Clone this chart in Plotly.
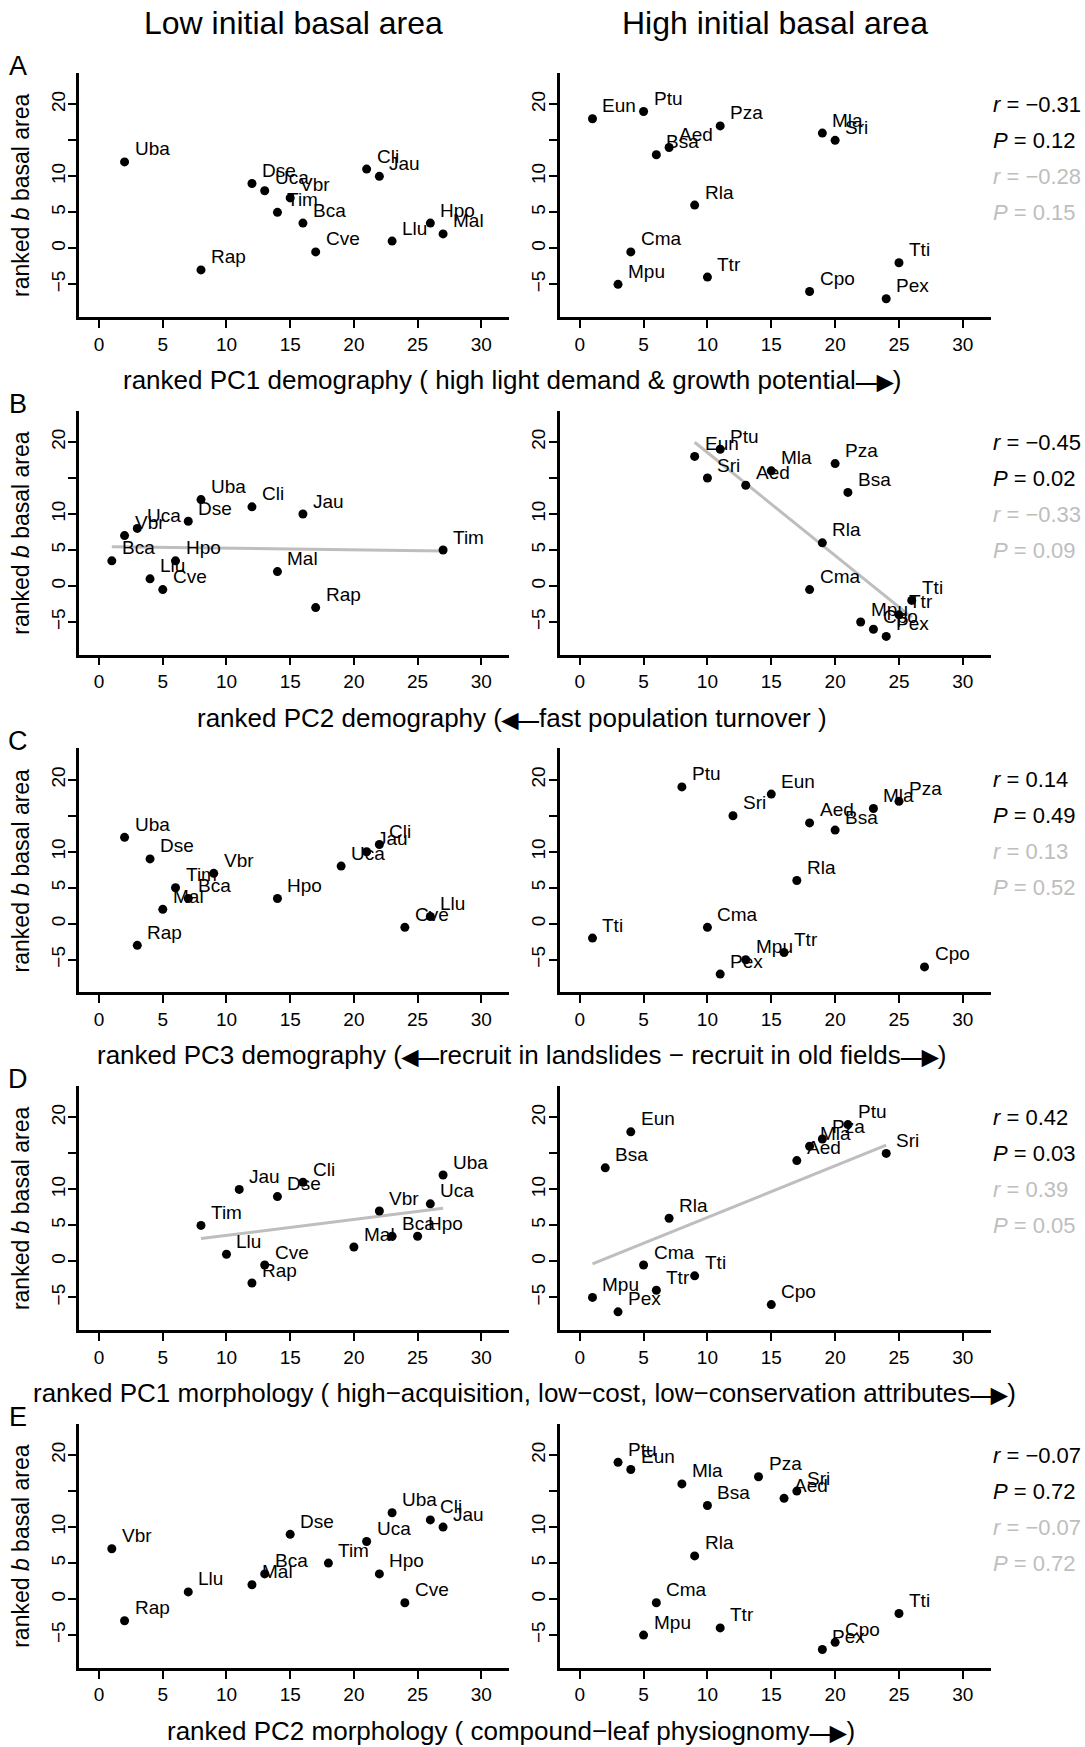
import numpy as np
import plotly.graph_objects as go

W, H = 1085, 1747
FONT = "Liberation Sans, Arial, Helvetica, sans-serif"
GRAY = "#bebebe"

# ---------------- data ----------------
low_species = ['Uba', 'Cli', 'Jau', 'Dse', 'Uca', 'Vbr', 'Tim', 'Bca', 'Hpo', 'Mal', 'Llu', 'Cve', 'Rap']
low_b = [12, 11, 10, 9, 8, 7, 5, 3.5, 3.5, 2, 1, -0.5, -3]

high_species = ['Ptu', 'Eun', 'Pza', 'Mla', 'Sri', 'Aed', 'Bsa', 'Rla', 'Cma', 'Tti', 'Ttr', 'Mpu', 'Cpo', 'Pex']
high_b = [19, 18, 17, 16, 15, 14, 13, 6, -0.5, -2, -4, -5, -6, -7]

# ranked x values (low group, same species order as low_species)
low_pc1_demo = [2, 21, 22, 12, 13, 15, 14, 16, 26, 27, 23, 17, 8]
low_pc2_demo = [8, 12, 16, 7, 3, 2, 27, 1, 6, 14, 4, 5, 17]
low_pc3_demo = [2, 22, 21, 4, 19, 9, 6, 7, 14, 5, 26, 24, 3]
low_pc1_morph = [27, 16, 11, 14, 26, 22, 8, 23, 25, 20, 10, 13, 12]
low_pc2_morph = [23, 26, 27, 15, 21, 1, 18, 13, 22, 12, 7, 24, 2]

# ranked x values (high group, same species order as high_species)
high_pc1_demo = [5, 1, 11, 19, 20, 7, 6, 9, 4, 25, 10, 3, 18, 24]
high_pc2_demo = [11, 9, 20, 15, 10, 13, 21, 19, 18, 26, 25, 22, 23, 24]
high_pc3_demo = [8, 15, 25, 23, 12, 18, 20, 17, 10, 1, 16, 13, 27, 11]
high_pc1_morph = [21, 4, 19, 18, 24, 17, 2, 7, 5, 9, 6, 1, 15, 3]
high_pc2_morph = [3, 4, 14, 8, 17, 16, 10, 9, 6, 25, 11, 5, 20, 19]

low_rows = [low_pc1_demo, low_pc2_demo, low_pc3_demo, low_pc1_morph, low_pc2_morph]
high_rows = [high_pc1_demo, high_pc2_demo, high_pc3_demo, high_pc1_morph, high_pc2_morph]
fit_rows = [False, True, False, True, False]

row_letters = ['A', 'B', 'C', 'D', 'E']
SMALL = '<span style="font-size:21px"><b>%s</b></span>'
RARROW = SMALL % '\u2014\u25B6'
LARROW = SMALL % '\u25C0\u2014'
x_titles = [
    'ranked PC1 demography ( high light demand & growth potential' + RARROW + ')',
    'ranked PC2 demography (' + LARROW + 'fast population turnover )',
    'ranked PC3 demography (' + LARROW + 'recruit in landslides \u2212 recruit in old fields' + RARROW + ')',
    'ranked PC1 morphology ( high\u2212acquisition, low\u2212cost, low\u2212conservation attributes' + RARROW + ')',
    'ranked PC2 morphology ( compound\u2212leaf physiognomy' + RARROW + ')',
]
x_title_centers = [512, 512, 521, 524, 511]

stats_r_black = ['\u22120.31', '\u22120.45', '0.14', '0.42', '\u22120.07']
stats_p_black = ['0.12', '0.02', '0.49', '0.03', '0.72']
stats_r_gray = ['\u22120.28', '\u22120.33', '0.13', '0.39', '\u22120.07']
stats_p_gray = ['0.15', '0.09', '0.52', '0.05', '0.72']

col_titles = ['Low initial basal area', 'High initial basal area']

y_tickvals = [-5, 0, 5, 10, 15, 20]
y_ticktext = ['\u22125', '0', '5', '10', '', '20']
x_tickvals = [0, 5, 10, 15, 20, 25, 30]

# ---------------- layout geometry (pixels) ----------------
col_x = [(79.2, 509.2), (559.8, 990.8)]
ROW_TOP0, ROW_BOT0, ROW_PITCH = 73.0, 317.0, 337.7
XR = [-1.56, 32.19]
YR = [-9.54, 24.35]

fig = go.Figure()
layout = dict(
    width=W, height=H, autosize=False,
    margin=dict(l=0, r=0, t=0, b=0),
    paper_bgcolor='white', plot_bgcolor='white',
    showlegend=False,
    font=dict(family=FONT, color='black', size=19),
)
annotations = []

for r in range(5):
    top = ROW_TOP0 + r * ROW_PITCH
    bot = ROW_BOT0 + r * ROW_PITCH
    ydom = [1 - bot / H, 1 - top / H]
    for c in range(2):
        k = r * 2 + c + 1
        xa = 'x' if k == 1 else 'x%d' % k
        ya = 'y' if k == 1 else 'y%d' % k
        xkey = 'xaxis' if k == 1 else 'xaxis%d' % k
        ykey = 'yaxis' if k == 1 else 'yaxis%d' % k
        layout[xkey] = dict(
            domain=[col_x[c][0] / W, col_x[c][1] / W], anchor=ya,
            range=XR, tickvals=x_tickvals, showgrid=False, zeroline=False,
            showline=True, linecolor='black', linewidth=2.5, mirror=False,
            ticks='outside', ticklen=8, tickwidth=2, tickcolor='black',
            tickfont=dict(size=19, color='black'), ticklabelstandoff=0,
        )
        layout[ykey] = dict(
            domain=ydom, anchor=xa,
            range=YR, tickvals=y_tickvals, ticktext=y_ticktext, tickangle=-90,
            showgrid=False, zeroline=False,
            showline=True, linecolor='black', linewidth=2.5, mirror=False,
            ticks='outside', ticklen=8, tickwidth=2, tickcolor='black',
            tickfont=dict(size=19, color='black'), ticklabelstandoff=-4,
        )
        species = low_species if c == 0 else high_species
        yvals = low_b if c == 0 else high_b
        xvals = low_rows[r] if c == 0 else high_rows[r]

        if fit_rows[r]:
            xs = np.array(xvals, dtype=float)
            ys = np.array(yvals, dtype=float)
            slope, icpt = np.polyfit(xs, ys, 1)
            xl = np.array([xs.min(), xs.max()])
            fig.add_trace(go.Scatter(
                x=xl, y=icpt + slope * xl, mode='lines',
                line=dict(color=GRAY, width=3), xaxis=xa, yaxis=ya,
                hoverinfo='skip'))

        fig.add_trace(go.Scatter(
            x=xvals, y=yvals, mode='markers',
            marker=dict(color='black', size=9, line=dict(width=0)),
            xaxis=xa, yaxis=ya, text=species))

        for s, xv, yv in zip(species, xvals, yvals):
            annotations.append(dict(
                x=xv, y=yv, xref=xa, yref=ya, text=s, showarrow=False,
                xanchor='left', yanchor='middle', xshift=8, yshift=13,
                font=dict(size=19, color='black', family=FONT)))

        if c == 1:
            stats = [('<i>r</i> = ' + stats_r_black[r], 'black', 20),
                     ('<i>P</i> = ' + stats_p_black[r], 'black', 15),
                     ('<i>r</i> = ' + stats_r_gray[r], GRAY, 10),
                     ('<i>P</i> = ' + stats_p_gray[r], GRAY, 5)]
            for txt, col, yv in stats:
                annotations.append(dict(
                    x=991 / W, y=yv, xref='paper', yref=ya, text=txt,
                    showarrow=False, xanchor='left', yanchor='middle',
                    font=dict(size=22, color=col, family=FONT)))

        # y-axis title on the left column
        if c == 0:
            annotations.append(dict(
                x=21 / W, y=1 - (top + bot) / 2 / H, xref='paper', yref='paper',
                text='ranked <i>b</i> basal area', textangle=-90, showarrow=False,
                xanchor='center', yanchor='middle',
                font=dict(size=23, color='black', family=FONT)))

    # panel letter
    annotations.append(dict(
        x=18 / W, y=1 - (top - 7) / H, xref='paper', yref='paper',
        text=row_letters[r], showarrow=False, xanchor='center', yanchor='middle',
        font=dict(size=27, color='black', family=FONT)))
    # x title
    annotations.append(dict(
        x=x_title_centers[r] / W, y=1 - (380 + r * ROW_PITCH) / H,
        xref='paper', yref='paper', text=x_titles[r], showarrow=False,
        xanchor='center', yanchor='middle',
        font=dict(size=26, color='black', family=FONT)))

# column titles
for txt, cx in zip(col_titles, [293.5, 775]):
    annotations.append(dict(
        x=cx / W, y=1 - 23 / H, xref='paper', yref='paper', text=txt,
        showarrow=False, xanchor='center', yanchor='middle',
        font=dict(size=32, color='black', family=FONT)))

layout['annotations'] = annotations
fig.update_layout(**layout)
fig.write_html("out.html")
